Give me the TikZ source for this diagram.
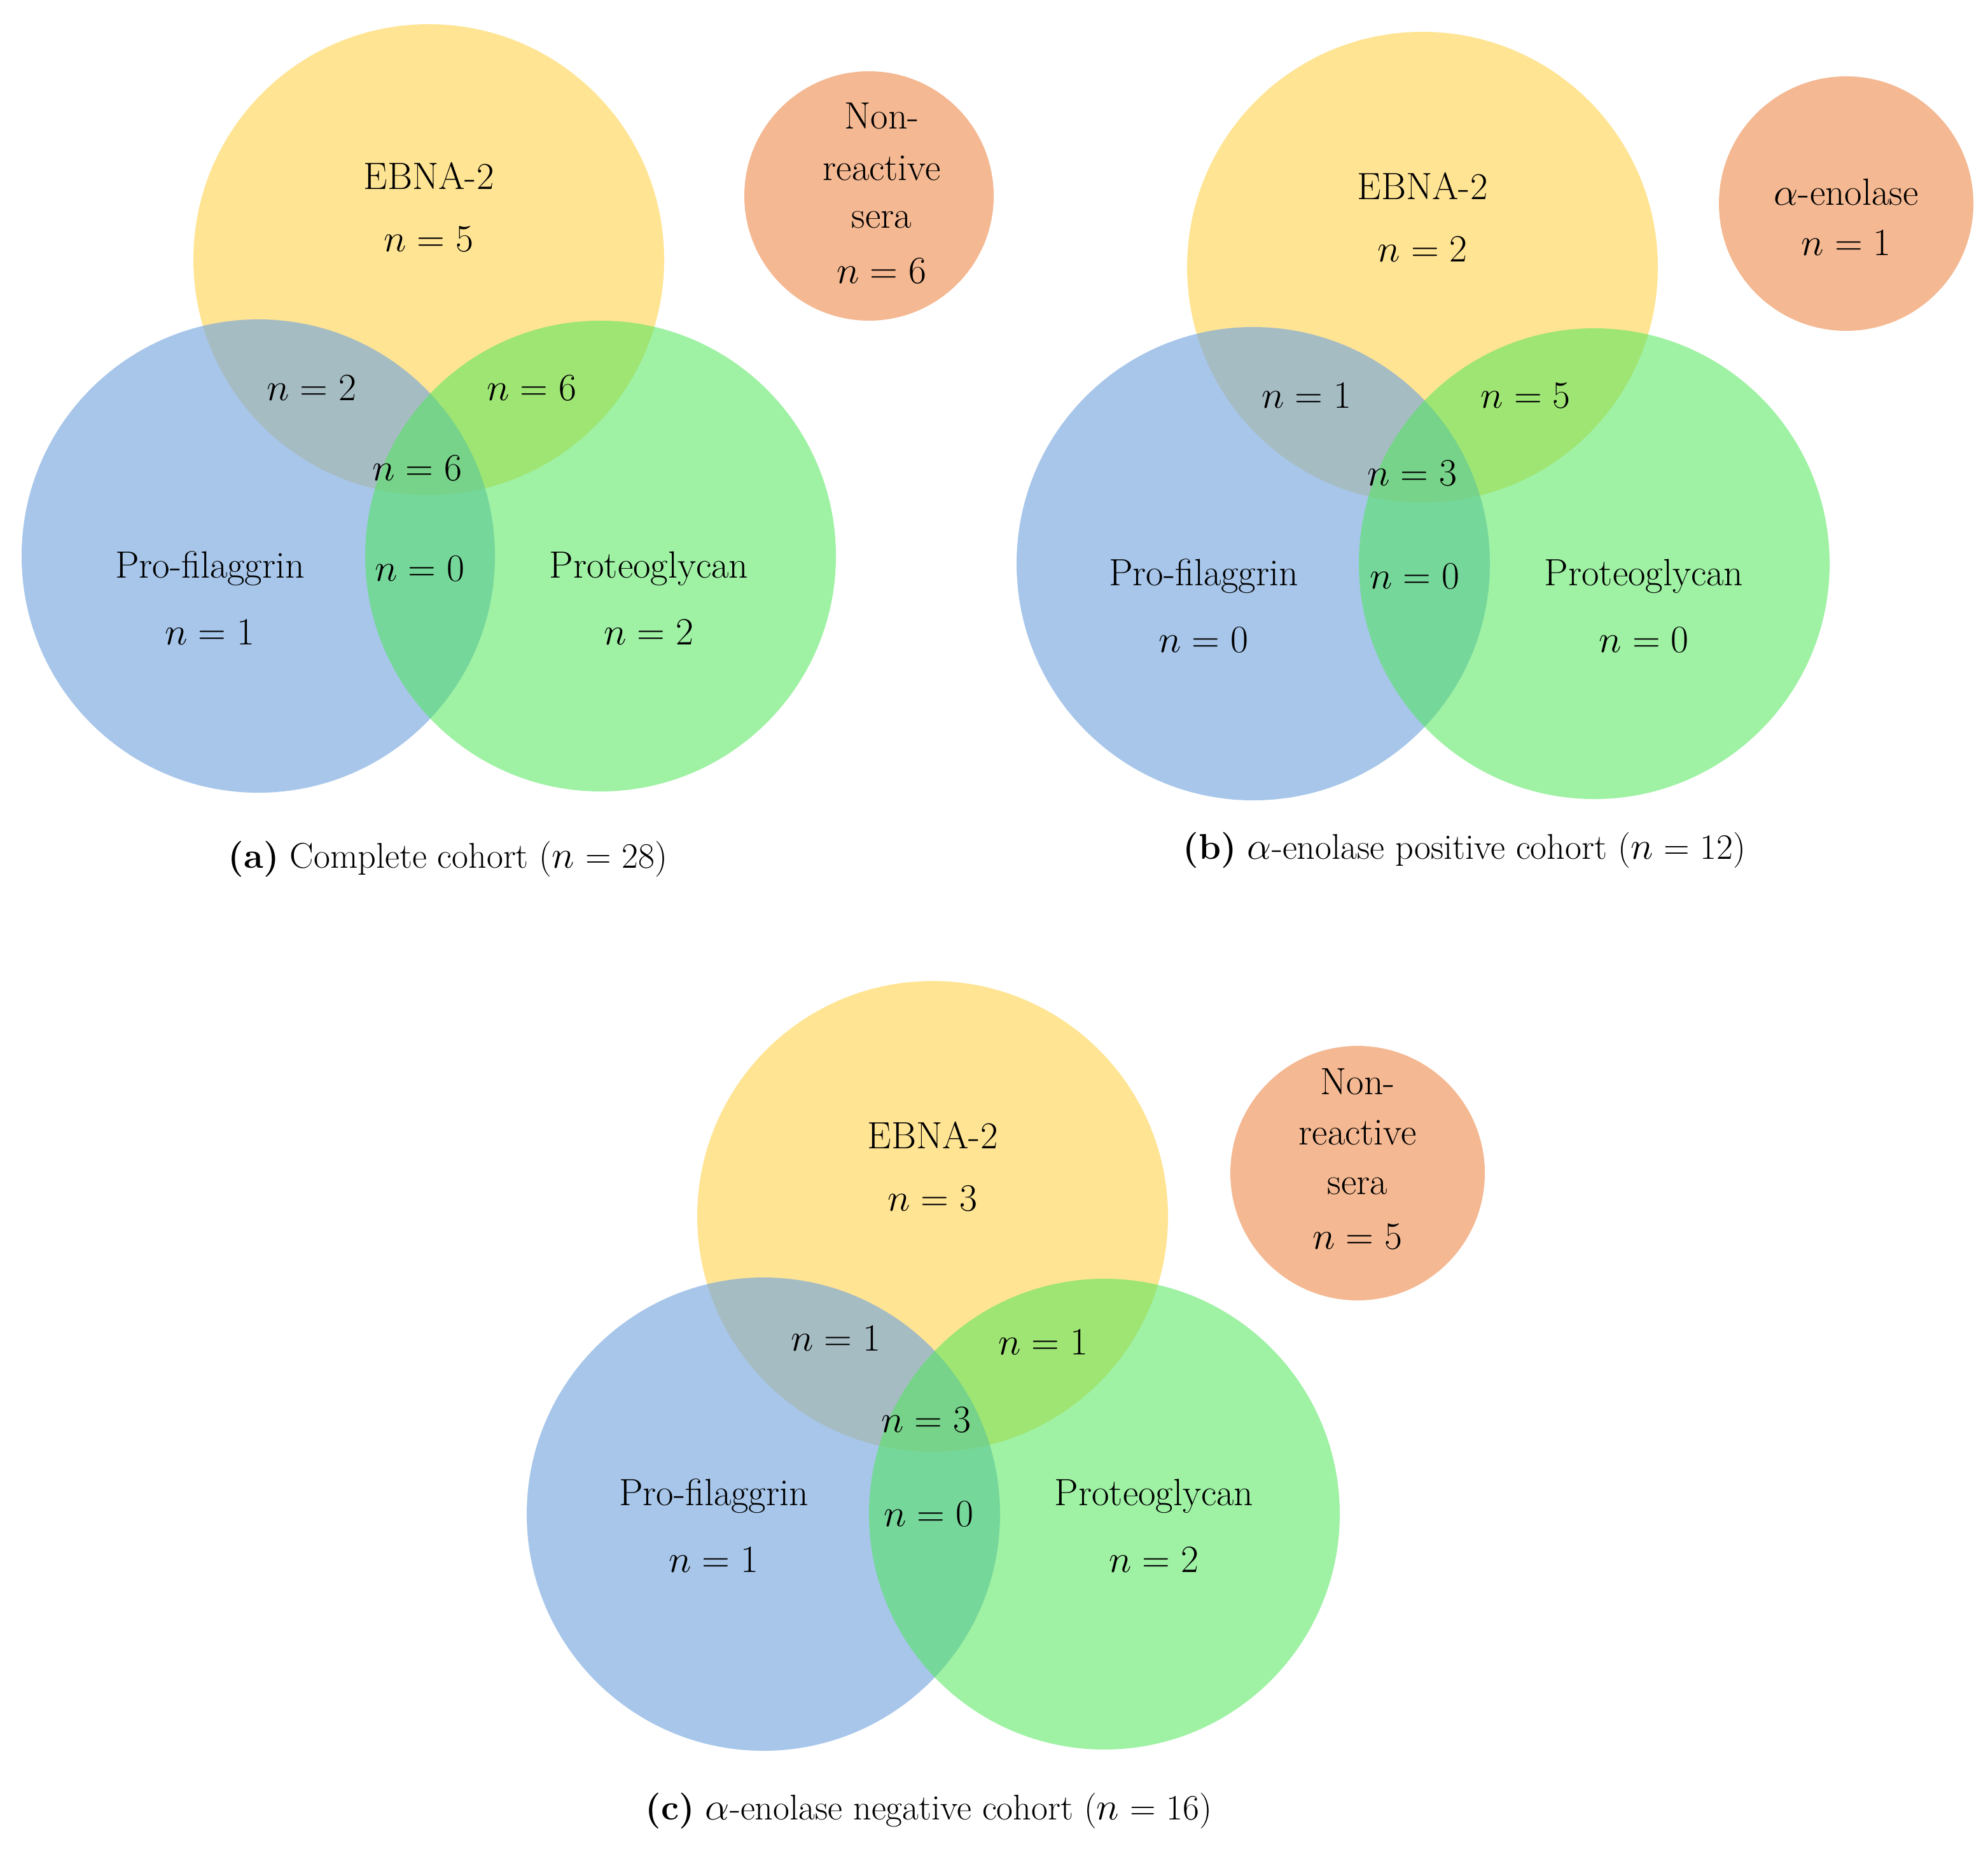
\documentclass[tikz,border=0pt]{standalone}
\begin{document}
\begin{tikzpicture}[x=0.02cm,y=-0.02cm,
  yel/.style={fill={rgb,255:red,255;green,214;blue,90},fill opacity=0.65,draw=none},
  blu/.style={fill={rgb,255:red,120;green,168;blue,222},fill opacity=0.65,draw=none},
  grn/.style={fill={rgb,255:red,80;green,230;blue,90},fill opacity=0.55,draw=none},
  org/.style={fill={rgb,255:red,244;green,184;blue,146},draw=none},
  lab/.style={font=\fontsize{17}{21}\selectfont,align=center,inner sep=0pt},
  captext/.style={font=\fontsize{16}{20}\selectfont,inner sep=0pt}]
\useasboundingbox (0,0) rectangle (1562.5,1453.5);
% (a)
\fill[yel] (337,204) circle (185);
\fill[blu] (203,437) circle (186);
\fill[grn] (472,437) circle (185);
\fill[org] (683,154) circle (98);
\node[lab] (a1) at (337,138) {EBNA-2};
\node[lab] (a2) at (337,188) {$n=5$};
\node[lab] (a3) at (245,305) {$n=2$};
\node[lab] (a4) at (418,305) {$n=6$};
\node[lab] (a5) at (328,368) {$n=6$};
\node[lab] (a6) at (165,447) {Pro-filaggrin};
\node[lab] (a7) at (165,497) {$n=1$};
\node[lab] (a8) at (330,447) {$n=0$};
\node[lab] (a9) at (510,447) {Proteoglycan};
\node[lab] (a10) at (510,497) {$n=2$};
\node[lab] (a11) at (693,91) {Non-};
\node[lab] (a12) at (693,132) {reactive};
\node[lab] (a13) at (693,173) {sera};
\node[lab] (a14) at (693,213) {$n=6$};
\node[captext] (ac) at (352,675) {\textbf{(a)} Complete cohort ($n$ = 28)};
% (b)
\fill[yel] (1118,210) circle (185);
\fill[blu] (985,443) circle (186);
\fill[grn] (1253,443) circle (185);
\fill[org] (1451,160) circle (100);
\node[lab] (b1) at (1118,146) {EBNA-2};
\node[lab] (b2) at (1118,196) {$n=2$};
\node[lab] (b3) at (1027,311) {$n=1$};
\node[lab] (b4) at (1199,311) {$n=5$};
\node[lab] (b5) at (1110,372) {$n=3$};
\node[lab] (b6) at (946,453) {Pro-filaggrin};
\node[lab] (b7) at (946,503) {$n=0$};
\node[lab] (b8) at (1112,453) {$n=0$};
\node[lab] (b9) at (1292,453) {Proteoglycan};
\node[lab] (b10) at (1292,503) {$n=0$};
\node[lab] (b11) at (1451,151) {$\alpha$-enolase};
\node[lab] (b12) at (1451,191) {$n=1$};
\node[captext] (bc) at (1151,668) {\textbf{(b)} $\alpha$-enolase positive cohort ($n$ = 12)};
% (c)
\fill[yel] (733,956) circle (185);
\fill[blu] (600,1190) circle (186);
\fill[grn] (868,1190) circle (185);
\fill[org] (1067,922) circle (100);
\node[lab] (c1) at (733,892) {EBNA-2};
\node[lab] (c2) at (733,942) {$n=3$};
\node[lab] (c3) at (657,1052) {$n=1$};
\node[lab] (c4) at (820,1055) {$n=1$};
\node[lab] (c5) at (728,1116) {$n=3$};
\node[lab] (c6) at (561,1176) {Pro-filaggrin};
\node[lab] (c7) at (561,1226) {$n=1$};
\node[lab] (c8) at (730,1190) {$n=0$};
\node[lab] (c9) at (907,1176) {Proteoglycan};
\node[lab] (c10) at (907,1226) {$n=2$};
\node[lab] (c11) at (1067,850) {Non-};
\node[lab] (c12) at (1067,890) {reactive};
\node[lab] (c13) at (1067,932) {sera};
\node[lab] (c14) at (1067,972) {$n=5$};
\node[captext] (cc) at (730,1423) {\textbf{(c)} $\alpha$-enolase negative cohort ($n$ = 16)};
\end{tikzpicture}
\end{document}
